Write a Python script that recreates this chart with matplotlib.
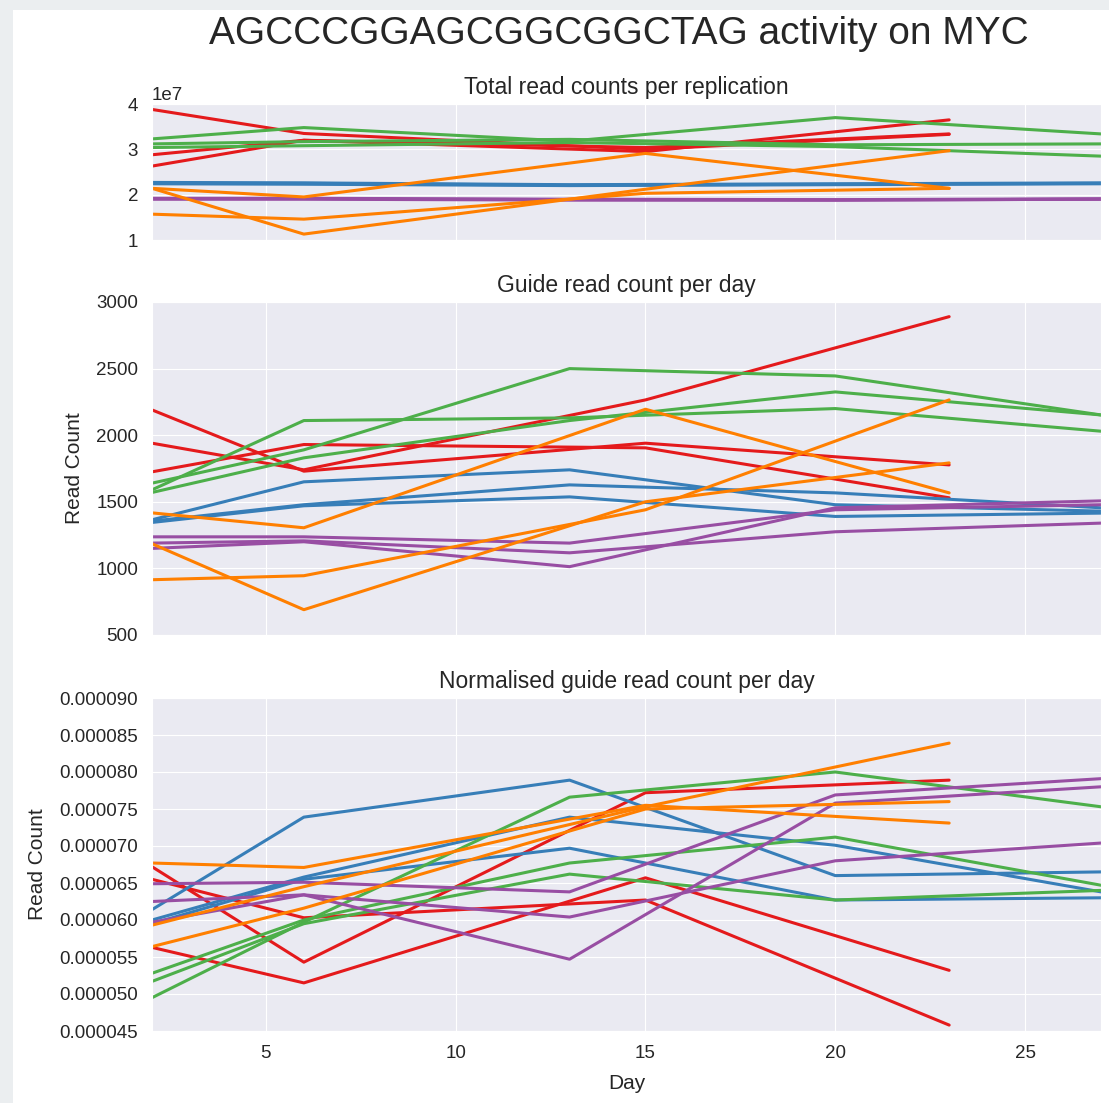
import numpy as np
import matplotlib
matplotlib.use("Agg")
import matplotlib.pyplot as plt
import seaborn as sns
from matplotlib.ticker import FormatStrFormatter, MultipleLocator
from matplotlib.patches import Rectangle

# ---- data ----
days_a = [2, 6, 15, 23]          # red / orange replicates
days_b = [2, 6, 13, 20, 27]      # green / blue / purple replicates

# total read counts per replication
tot_red = [[2.88e7, 3.20e7, 2.95e7, 3.65e7],
           [2.63e7, 3.20e7, 3.04e7, 3.34e7],
           [3.88e7, 3.35e7, 3.00e7, 3.33e7]]
tot_orange = [[2.14e7, 1.95e7, 2.91e7, 2.14e7],
              [2.14e7, 1.13e7, 2.12e7, 2.97e7],
              [1.57e7, 1.46e7, 2.03e7, 2.14e7]]
tot_green = [[3.23e7, 3.48e7, 3.18e7, 3.70e7, 3.34e7],
             [3.12e7, 3.17e7, 3.22e7, 3.10e7, 3.12e7],
             [3.04e7, 3.08e7, 3.15e7, 3.06e7, 2.85e7]]
tot_blue = [[2.27e7, 2.26e7, 2.22e7, 2.24e7, 2.26e7],
            [2.25e7, 2.25e7, 2.21e7, 2.23e7, 2.25e7],
            [2.24e7, 2.23e7, 2.20e7, 2.22e7, 2.24e7]]
tot_purple = [[1.92e7, 1.92e7, 1.90e7, 1.89e7, 1.91e7],
              [1.91e7, 1.91e7, 1.89e7, 1.88e7, 1.90e7],
              [1.90e7, 1.90e7, 1.88e7, 1.88e7, 1.90e7]]

# guide read count per day
gd_red = [[1940, 1740, 2265, 2890],
          [1725, 1930, 1905, 1530],
          [2190, 1730, 1940, 1777]]
gd_orange = [[1417, 1305, 2195, 1567],
             [1185, 690, 1500, 1792],
             [915, 945, 1440, 2265]]
gd_green = [[1640, 1890, 2500, 2445, 2152],
            [1590, 2110, 2130, 2200, 2030],
            [1570, 1830, 2110, 2325, 2152]]
gd_blue = [[1365, 1650, 1740, 1478, 1430],
           [1355, 1478, 1627, 1567, 1455],
           [1345, 1470, 1537, 1390, 1415]]
gd_purple = [[1237, 1237, 1190, 1440, 1478],
             [1190, 1207, 1117, 1275, 1340],
             [1150, 1200, 1013, 1455, 1507]]

# normalised guide read count per day
nm_red = [[6.72e-5, 5.43e-5, 7.72e-5, 7.89e-5],
          [6.55e-5, 6.03e-5, 6.27e-5, 4.58e-5],
          [5.63e-5, 5.15e-5, 6.57e-5, 5.32e-5]]
nm_orange = [[6.77e-5, 6.71e-5, 7.55e-5, 7.31e-5],
             [5.93e-5, 6.45e-5, 7.53e-5, 8.39e-5],
             [5.64e-5, 6.16e-5, 7.50e-5, 7.60e-5]]
nm_green = [[4.95e-5, 5.97e-5, 7.66e-5, 8.00e-5, 7.53e-5],
            [5.28e-5, 6.00e-5, 6.77e-5, 7.12e-5, 6.47e-5],
            [5.17e-5, 5.95e-5, 6.62e-5, 6.27e-5, 6.40e-5]]
nm_blue = [[6.14e-5, 7.39e-5, 7.89e-5, 6.60e-5, 6.65e-5],
           [6.00e-5, 6.58e-5, 7.39e-5, 7.01e-5, 6.38e-5],
           [5.95e-5, 6.55e-5, 6.97e-5, 6.27e-5, 6.30e-5]]
nm_purple = [[6.49e-5, 6.51e-5, 6.38e-5, 7.69e-5, 7.91e-5],
             [6.25e-5, 6.34e-5, 6.04e-5, 6.80e-5, 7.04e-5],
             [5.97e-5, 6.34e-5, 5.47e-5, 7.58e-5, 7.80e-5]]

panel_titles = ["Total read counts per replication",
                "Guide read count per day",
                "Normalised guide read count per day"]

# ---- style ----
sns.set_style("darkgrid")
plt.rcParams['font.family'] = ['Liberation Sans', 'DejaVu Sans']
pal = sns.color_palette("Set1")
c_red, c_blue, c_green, c_purple, c_orange = pal[0], pal[1], pal[2], pal[3], pal[4]

fig = plt.figure(figsize=(11.09, 11.03), dpi=100)
fig.patch.set_facecolor('#ebeef0')
fig.patches.append(Rectangle((13 / 1109, 0), 1 - 13 / 1109, 1 - 10 / 1103,
                             transform=fig.transFigure, facecolor='white',
                             edgecolor='none', zorder=-1))

L, R = 152 / 1109, 1101 / 1109
def ax_at(top_px, bot_px):
    return fig.add_axes([L, 1 - bot_px / 1103, R - L, (bot_px - top_px) / 1103])

ax1 = ax_at(104, 240)
ax2 = ax_at(302, 635)
ax3 = ax_at(698, 1031)

groups = [
    (c_red, days_a, tot_red, gd_red, nm_red),
    (c_blue, days_b, tot_blue, gd_blue, nm_blue),
    (c_green, days_b, tot_green, gd_green, nm_green),
    (c_purple, days_b, tot_purple, gd_purple, nm_purple),
    (c_orange, days_a, tot_orange, gd_orange, nm_orange),
]
for col, d, tot, gd, nm in groups:
    for s in tot:
        ax1.plot(d, s, color=col, lw=2.2)
    for s in gd:
        ax2.plot(d, s, color=col, lw=2.2)
    for s in nm:
        ax3.plot(d, s, color=col, lw=2.2)

for ax, t in zip([ax1, ax2, ax3], panel_titles):
    ax.set_xlim(2, 27)
    ax.xaxis.set_major_locator(MultipleLocator(5))
    ax.set_title(t, fontsize=16.5, color='.15', pad=7)
    ax.tick_params(axis='both', labelsize=13.5, colors='.15', length=0, pad=10)

ax1.set_ylim(1e7, 4e7)
ax1.set_yticks([1e7, 2e7, 3e7, 4e7])
ax1.yaxis.get_offset_text().set_fontsize(13.5)
ax1.tick_params(axis='x', labelbottom=False)

ax2.set_ylim(500, 3000)
ax2.yaxis.set_major_locator(MultipleLocator(500))
ax2.tick_params(axis='x', labelbottom=False)
ax2.set_ylabel("Read Count", fontsize=15, color='.15', labelpad=9)

ax3.set_ylim(4.5e-5, 9.0e-5)
ax3.set_yticks(np.arange(4.5e-5, 9.01e-5, 0.5e-5))
ax3.yaxis.set_major_formatter(FormatStrFormatter('%.6f'))
ax3.set_ylabel("Read Count", fontsize=15, color='.15', labelpad=9)
ax3.set_xlabel("Day", fontsize=15, color='.15', labelpad=9)

fig.text(619 / 1109, 1 - 34 / 1103, "AGCCCGGAGCGGCGGCTAG activity on MYC",
         fontsize=28, color='.15', ha='center', va='center')

fig.savefig("out.png", dpi=100, facecolor=fig.get_facecolor())
